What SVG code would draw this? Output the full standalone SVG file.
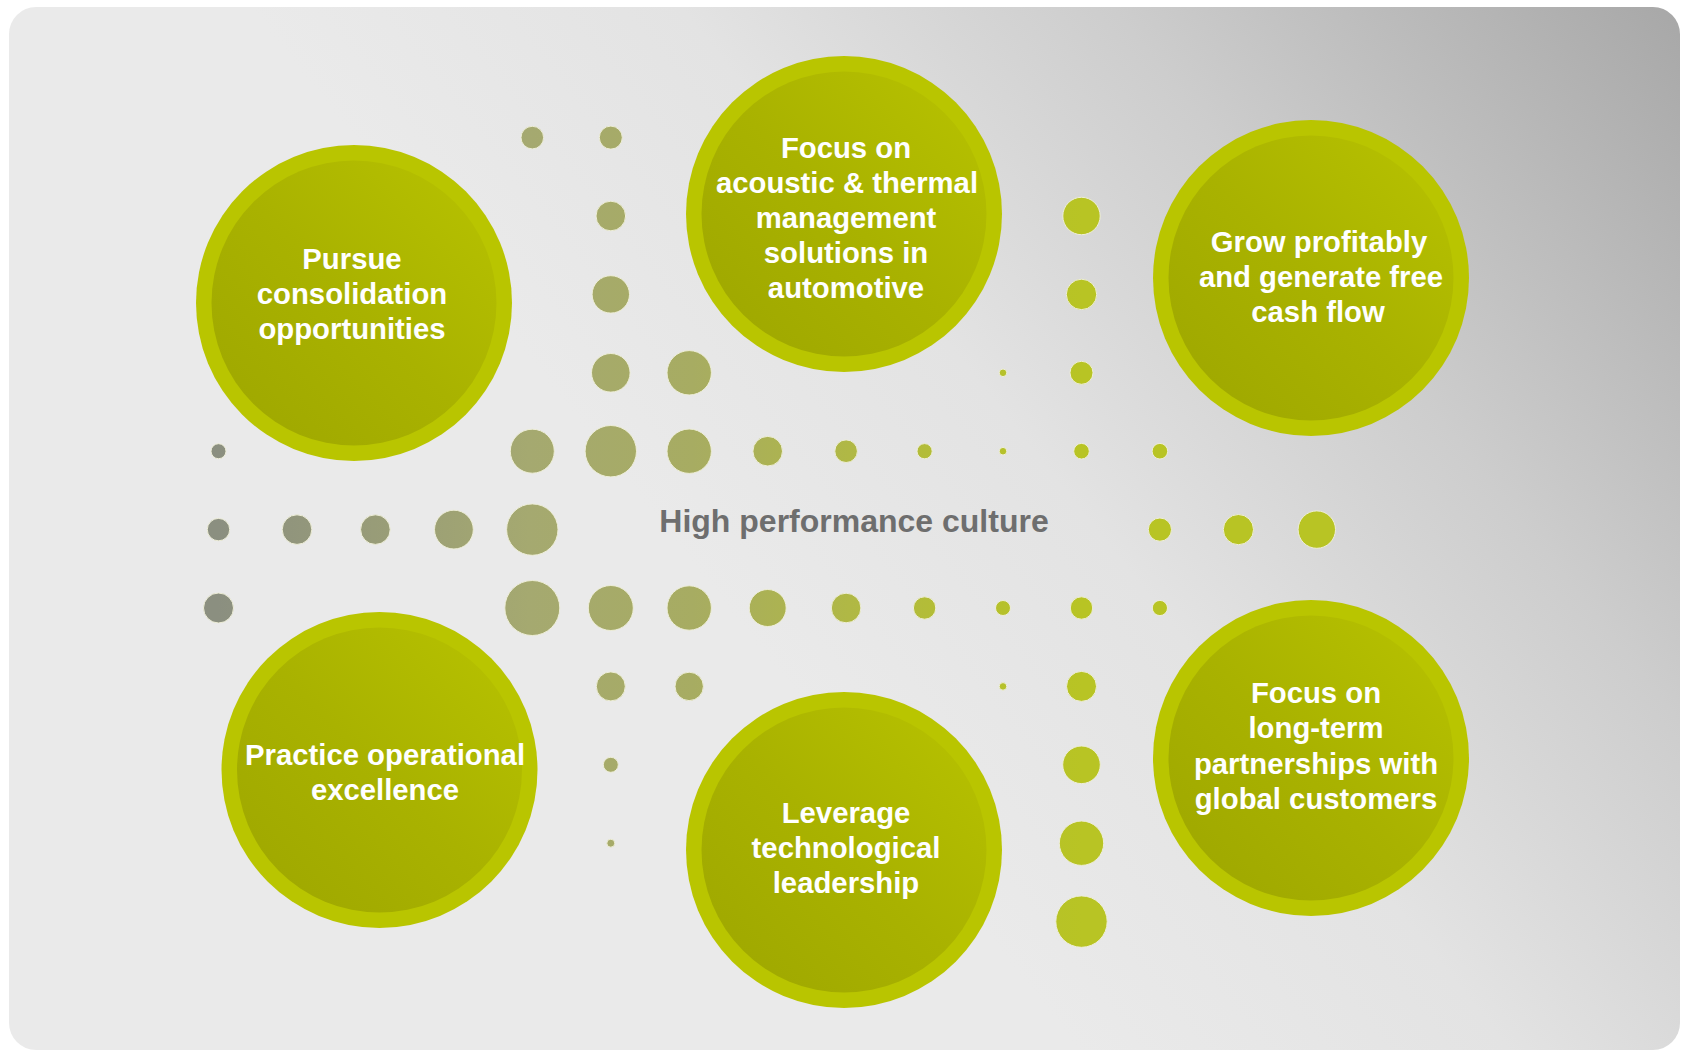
<svg xmlns="http://www.w3.org/2000/svg" width="1681" height="1052" viewBox="0 0 1681 1052">
  <defs>
    <!-- panel shading: light on the left, darkening towards the upper right -->
    <linearGradient id="panelGrad" gradientUnits="userSpaceOnUse" x1="800" y1="700" x2="1681" y2="0">
      <stop offset="0" stop-color="#eaeaea"/>
      <stop offset="0.3" stop-color="#e3e3e3"/>
      <stop offset="0.6" stop-color="#cdcdcd"/>
      <stop offset="1" stop-color="#a7a7a7"/>
    </linearGradient>
    <!-- inner disc of each goal circle -->
    <linearGradient id="coreGrad" x1="0" y1="1" x2="1" y2="0">
      <stop offset="0" stop-color="#9da600"/>
      <stop offset="0.5" stop-color="#a9b200"/>
      <stop offset="1" stop-color="#b8c300"/>
    </linearGradient>
    <!-- dot field: grey-olive on the left, lime on the right -->
    <linearGradient id="dotGrad" gradientUnits="userSpaceOnUse" x1="218" y1="0" x2="1082" y2="0">
      <stop offset="0" stop-color="#8b8f80"/>
      <stop offset="0.36" stop-color="#a5a970"/>
      <stop offset="0.55" stop-color="#a7ac62"/>
      <stop offset="0.73" stop-color="#b0b845"/>
      <stop offset="0.91" stop-color="#b6c12b"/>
      <stop offset="1" stop-color="#b8c424"/>
    </linearGradient>
  </defs>
  <style>
    .ring { fill: #b9c500; }
    .core { fill: url(#coreGrad); }
    .label { font-family: "Liberation Sans", Arial, sans-serif; font-weight: bold; font-size: 29.3px; fill: #ffffff; text-anchor: middle; }
    .culture { font-family: "Liberation Sans", Arial, sans-serif; font-weight: bold; font-size: 32px; fill: #6e6e6e; text-anchor: middle; }
    .dot { fill: url(#dotGrad); stroke: #eeeed8; stroke-width: 1; }
  </style>

  <rect x="0" y="0" width="1681" height="1052" fill="#ffffff"/>
  <rect id="panel" x="9" y="7" width="1671" height="1043" rx="27" ry="27" fill="url(#panelGrad)"/>

  <!-- decorative dot field -->
  <g id="dots">
    <circle class="dot" cx="532.3" cy="137.6" r="11.3"/>
    <circle class="dot" cx="610.8" cy="137.6" r="11.5"/>

    <circle class="dot" cx="610.8" cy="216" r="14.8"/>
    <circle class="dot" cx="1081.5" cy="216" r="18.7"/>

    <circle class="dot" cx="610.8" cy="294.4" r="18.7"/>
    <circle class="dot" cx="1081.5" cy="294.4" r="15.2"/>

    <circle class="dot" cx="610.8" cy="372.8" r="19.3"/>
    <circle class="dot" cx="689.2" cy="372.8" r="22.2"/>
    <circle class="dot" cx="1003" cy="372.8" r="3.8"/>
    <circle class="dot" cx="1081.5" cy="372.8" r="11.5"/>

    <circle class="dot" cx="218.5" cy="451.2" r="7.5"/>
    <circle class="dot" cx="532.3" cy="451.2" r="22"/>
    <circle class="dot" cx="610.8" cy="451.2" r="25.7"/>
    <circle class="dot" cx="689.2" cy="451.2" r="22.2"/>
    <circle class="dot" cx="767.7" cy="451.2" r="14.8"/>
    <circle class="dot" cx="846.1" cy="451.2" r="11.3"/>
    <circle class="dot" cx="924.6" cy="451.2" r="7.6"/>
    <circle class="dot" cx="1003" cy="451.2" r="3.8"/>
    <circle class="dot" cx="1081.5" cy="451.2" r="7.8"/>
    <circle class="dot" cx="1159.9" cy="451.2" r="7.8"/>

    <circle class="dot" cx="218.5" cy="529.6" r="11.2"/>
    <circle class="dot" cx="297" cy="529.6" r="14.8"/>
    <circle class="dot" cx="375.4" cy="529.6" r="14.8"/>
    <circle class="dot" cx="453.9" cy="529.6" r="19.4"/>
    <circle class="dot" cx="532.3" cy="529.6" r="25.7"/>
    <circle class="dot" cx="1159.9" cy="529.6" r="11.6"/>
    <circle class="dot" cx="1238.4" cy="529.6" r="15.1"/>
    <circle class="dot" cx="1316.8" cy="529.6" r="18.7"/>

    <circle class="dot" cx="218.5" cy="608" r="15"/>
    <circle class="dot" cx="532.3" cy="608" r="27.5"/>
    <circle class="dot" cx="610.8" cy="608" r="22.5"/>
    <circle class="dot" cx="689.2" cy="608" r="22.2"/>
    <circle class="dot" cx="767.7" cy="608" r="18.5"/>
    <circle class="dot" cx="846.1" cy="608" r="14.8"/>
    <circle class="dot" cx="924.6" cy="608" r="11.2"/>
    <circle class="dot" cx="1003" cy="608" r="7.5"/>
    <circle class="dot" cx="1081.5" cy="608" r="11.2"/>
    <circle class="dot" cx="1159.9" cy="608" r="7.6"/>

    <circle class="dot" cx="610.8" cy="686.4" r="14.5"/>
    <circle class="dot" cx="689.2" cy="686.4" r="14.2"/>
    <circle class="dot" cx="1003" cy="686.4" r="3.8"/>
    <circle class="dot" cx="1081.5" cy="686.4" r="15"/>

    <circle class="dot" cx="610.8" cy="764.8" r="7.5"/>
    <circle class="dot" cx="1081.5" cy="764.8" r="18.8"/>

    <circle class="dot" cx="610.8" cy="843.2" r="4"/>
    <circle class="dot" cx="1081.5" cy="843.2" r="22.2"/>

    <circle class="dot" cx="1081.5" cy="921.6" r="25.7"/>
  </g>

  <text id="culture" class="culture" x="854" y="531.7">High performance culture</text>

  <g id="consolidation">
    <circle class="ring" cx="354" cy="303" r="158"/>
    <circle class="core" cx="354" cy="303" r="142.5"/>
    <text class="label" x="352" y="269">Pursue</text>
    <text class="label" x="352" y="304">consolidation</text>
    <text class="label" x="352" y="339">opportunities</text>
  </g>

  <g id="acoustic-thermal">
    <circle class="ring" cx="844" cy="214" r="158"/>
    <circle class="core" cx="844" cy="214" r="142.5"/>
    <text class="label" x="846" y="158">Focus on</text>
    <text class="label" x="847" y="193">acoustic &amp; thermal</text>
    <text class="label" x="846" y="228">management</text>
    <text class="label" x="846" y="263">solutions in</text>
    <text class="label" x="846" y="298">automotive</text>
  </g>

  <g id="grow-profitably">
    <circle class="ring" cx="1311" cy="278" r="158"/>
    <circle class="core" cx="1311" cy="278" r="142.5"/>
    <text class="label" x="1319" y="252">Grow profitably</text>
    <text class="label" x="1321" y="287">and generate free</text>
    <text class="label" x="1318" y="322">cash flow</text>
  </g>

  <g id="operational-excellence">
    <circle class="ring" cx="379.5" cy="770" r="158"/>
    <circle class="core" cx="379.5" cy="770" r="142.5"/>
    <text class="label" x="385" y="765">Practice operational</text>
    <text class="label" x="385" y="800">excellence</text>
  </g>

  <g id="technological-leadership">
    <circle class="ring" cx="844" cy="850" r="158"/>
    <circle class="core" cx="844" cy="850" r="142.5"/>
    <text class="label" x="846" y="823">Leverage</text>
    <text class="label" x="846" y="858">technological</text>
    <text class="label" x="846" y="893">leadership</text>
  </g>

  <g id="customer-partnerships">
    <circle class="ring" cx="1311" cy="758" r="158"/>
    <circle class="core" cx="1311" cy="758" r="142.5"/>
    <text class="label" x="1316" y="703">Focus on</text>
    <text class="label" x="1316" y="738">long-term</text>
    <text class="label" x="1316" y="773.5">partnerships with</text>
    <text class="label" x="1316" y="809">global customers</text>
  </g>
</svg>
